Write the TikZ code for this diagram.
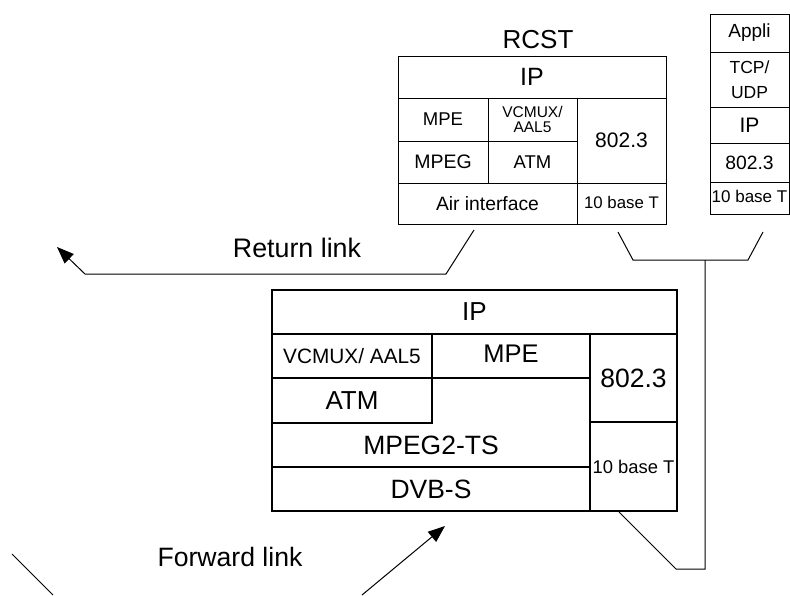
\documentclass[tikz,border=0pt]{standalone}
\usepackage{fontspec}
\setmainfont{Liberation Sans}
\usetikzlibrary{arrows.meta}
\newcommand{\fsz}[1]{\fontsize{#1}{#1}\selectfont}
\begin{document}
\begin{tikzpicture}[x=1pt,y=-1pt,
  cell/.style={draw, rectangle, inner sep=0pt, outer sep=0pt, anchor=north west, align=center, line width=1pt},
  bigcell/.style={cell, line width=1.3pt},
  lbl/.style={inner sep=0pt, align=center},
  wire/.style={line width=1pt, line join=miter},
  arr/.style={wire, -{Triangle[length=17pt,width=13pt]}}]
\useasboundingbox (0,0) rectangle (790,595);
% ---------- RCST stack ----------
\node[lbl, font=\fsz{26}] (rcst) at (538,40) {RCST};
\node[cell, minimum width=268pt, minimum height=42pt, font=\fsz{25}] (rip) at (398,56) {IP};
\node[cell, minimum width=90pt, minimum height=43pt, font=\fsz{18.5}] (rmpe) at (398,98) {MPE};
\node[cell, minimum width=89pt, minimum height=43pt, font=\fsz{15.5}] (rvc) at (488,98) {VCMUX/\\[-1pt]AAL5};
\node[cell, minimum width=90pt, minimum height=42pt, font=\fsz{19.5}] (rmpeg) at (398,141) {MPEG};
\node[cell, minimum width=89pt, minimum height=42pt, font=\fsz{18.5}] (ratm) at (488,141) {ATM};
\node[cell, minimum width=89pt, minimum height=85pt, font=\fsz{21}] (reth) at (577,98) {802.3};
\node[cell, minimum width=179pt, minimum height=41pt, font=\fsz{19.3}] (rair) at (398,183) {Air interface};
\node[cell, minimum width=89pt, minimum height=41pt, font=\fsz{16.8}] (rbt) at (577,183) {\raisebox{3pt}{10 base T}};
% ---------- Host stack ----------
\node[cell, minimum width=79pt, minimum height=38pt, font=\fsz{19}] (happ) at (710,14) {Appli};
\node[cell, minimum width=79pt, minimum height=55pt, font=\fsz{17.5}] (htcp) at (710,52) {TCP/\\[7pt]UDP};
\node[cell, minimum width=79pt, minimum height=36pt, font=\fsz{21}] (hip) at (710,107) {IP};
\node[cell, minimum width=79pt, minimum height=39pt, font=\fsz{19.3}] (heth) at (710,143) {802.3};
\node[cell, minimum width=79pt, minimum height=32pt, font=\fsz{17}] (hbt) at (710,182) {\raisebox{3pt}{10 base T}};
% ---------- Gateway stack ----------
\node[bigcell, minimum width=405pt, minimum height=44pt, font=\fsz{26}] (gip) at (272,290) {IP};
\node[bigcell, minimum width=160pt, minimum height=44pt, font=\fsz{20.8}] (gvc) at (272,334) {VCMUX/ AAL5};
\node[bigcell, minimum width=158pt, minimum height=44pt, font=\fsz{25.5}] (gmpe) at (432,334) {\raisebox{4pt}{MPE}};
\node[bigcell, minimum width=160pt, minimum height=45pt, font=\fsz{26}] (gatm) at (272,378) {ATM};
\node[bigcell, minimum width=87pt, minimum height=88pt, font=\fsz{26.5}] (geth) at (590,334) {802.3};
\node[bigcell, minimum width=87pt, minimum height=89pt, font=\fsz{18.4}] (gbt) at (590,422) {10 base T};
\node[bigcell, minimum width=318pt, minimum height=44pt, font=\fsz{26.5}] (gdvb) at (272,467) {DVB-S};
\draw[line width=1.3pt] (gatm.south west) -- (272,467) -- (590,467) -- (590,378) -- (gatm.north east);
\node[lbl, font=\fsz{26.5}] (gts) at (431,445) {MPEG2-TS};
% ---------- connectors ----------
\coordinate (e1) at (618,232);
\coordinate (e2) at (633,260);
\coordinate (j) at (705,260);
\coordinate (e3) at (748,260);
\coordinate (e4) at (763,232);
\coordinate (k1) at (705,569);
\coordinate (k2) at (676,569);
\coordinate (k3) at (619,512);
\draw[wire] (e1) -- (e2) -- (j) -- (e3) -- (e4);
\draw[wire] (j) -- (k1) -- (k2) -- (k3);
% return link
\coordinate (r1) at (474,230);
\coordinate (r2) at (446,274);
\coordinate (r3) at (85,274);
\coordinate (r4) at (57,247);
\draw[arr] (r1) -- (r2) -- (r3) -- (r4);
\node[lbl, font=\fsz{26.8}] (rl) at (297,248) {Return link};
% forward link
\coordinate (f1) at (12,554);
\coordinate (f2) at (53,595);
\coordinate (f3) at (362,595);
\coordinate (f4) at (445,526);
\draw[wire] (f1) -- (f2);
\draw[arr] (f3) -- (f4);
\node[lbl, font=\fsz{26.6}] (fl) at (230,557) {Forward link};
\end{tikzpicture}
\end{document}
